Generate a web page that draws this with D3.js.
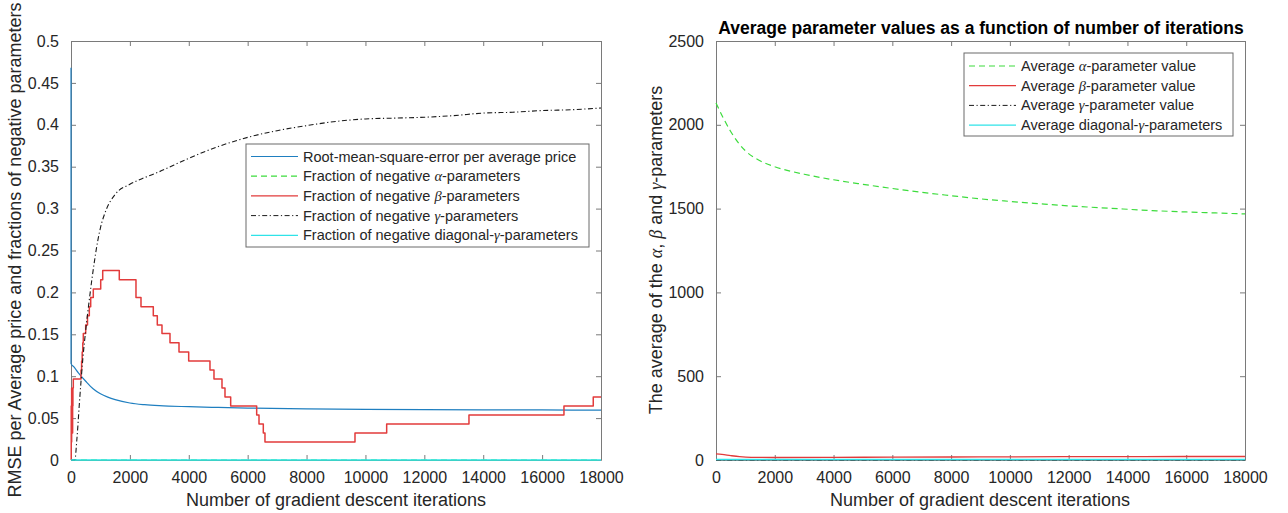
<!DOCTYPE html>
<html>
<head>
<meta charset="utf-8">
<script src="https://cdn.jsdelivr.net/npm/d3@7"></script>
<style>
  html, body { margin: 0; padding: 0; background: #fff; }
  svg { display: block; font-family: "Liberation Sans", Arial, Helvetica, sans-serif; }
</style>
</head>
<body>
<svg id="fig" width="1288" height="513"></svg>
<script>
// ---- shared axis ticks ----
const iterTicks = [0, 2000, 4000, 6000, 8000, 10000, 12000, 14000, 16000, 18000];
const leftYTicks = [0, 0.05, 0.1, 0.15, 0.2, 0.25, 0.3, 0.35, 0.4, 0.45, 0.5];
const leftYTickLabels = ["0", "0.05", "0.1", "0.15", "0.2", "0.25", "0.3", "0.35", "0.4", "0.45", "0.5"];
const rightYTicks = [0, 500, 1000, 1500, 2000, 2500];

// ---- left panel: RMSE and fractions of negative parameters ----
const rmseIter = [0, 1, 100, 250, 500, 750, 1000, 1250, 1500, 2000, 2500, 3000, 4000, 5000, 6000, 8000, 10000, 12000, 14000, 16000, 18000];
const rmseValue = [0.468, 0.115, 0.111, 0.104, 0.094, 0.085, 0.079, 0.075, 0.072, 0.068, 0.066, 0.0648, 0.0636, 0.0627, 0.062, 0.061, 0.0605, 0.0601, 0.0599, 0.0597, 0.0595];

const fracAlphaIter = [0, 18000];
const fracAlphaValue = [0, 0];

const fracBetaIter = [0, 8, 15, 22, 30, 38, 46, 55, 65, 78, 340, 360, 380, 400, 418, 499, 560, 622, 669, 757, 1009, 1077, 1640, 2207, 2377, 2795, 2931, 3090, 3362, 3668, 3997, 4720, 4856, 5128, 5230, 5423, 6306, 6385, 6531, 6588, 9645, 10721, 13516, 16742, 17737, 18000];
const fracBetaValue = [0, 0.0645, 0.0215, 0.086, 0.043, 0.0753, 0.0323, 0.0645, 0.086, 0.0968, 0.1075, 0.118, 0.129, 0.140, 0.151, 0.161, 0.172, 0.183, 0.194, 0.204, 0.215, 0.226, 0.215, 0.194, 0.183, 0.172, 0.161, 0.151, 0.140, 0.129, 0.118, 0.1075, 0.0968, 0.086, 0.0753, 0.0645, 0.0538, 0.043, 0.0323, 0.0215, 0.0323, 0.043, 0.0538, 0.0645, 0.0753, 0.0753];

const fracGammaIter = [0, 130, 200, 300, 400, 500, 600, 700, 800, 900, 1000, 1200, 1500, 2000, 2500, 3000, 3500, 4000, 5000, 6000, 7000, 8000, 9000, 10000, 11000, 12000, 13000, 14000, 15000, 16000, 17000, 18000];
const fracGammaValue = [0, 0, 0.025, 0.075, 0.12, 0.155, 0.185, 0.213, 0.238, 0.26, 0.277, 0.299, 0.317, 0.329, 0.337, 0.344, 0.352, 0.36, 0.374, 0.385, 0.393, 0.399, 0.404, 0.407, 0.408, 0.409, 0.411, 0.414, 0.415, 0.417, 0.418, 0.42];

const fracDiagIter = [0, 18000];
const fracDiagValue = [0, 0];

// ---- right panel: average parameter values ----
const avgAlphaIter = [0, 250, 500, 750, 1000, 1500, 2000, 3000, 4000, 5000, 6000, 7000, 8000, 9000, 10000, 11000, 12000, 13000, 14000, 15000, 16000, 17000, 18000];
const avgAlphaValue = [2130, 2040, 1960, 1895, 1845, 1785, 1750, 1705, 1672, 1645, 1620, 1597, 1577, 1558, 1543, 1529, 1516, 1506, 1496, 1487, 1480, 1474, 1468];

const avgBetaIter = [0, 200, 500, 800, 1200, 2000, 4000, 6000, 8000, 10000, 12000, 14000, 16000, 18000];
const avgBetaValue = [36, 33, 26, 20, 16, 15, 16, 17, 18, 19, 20, 20, 21, 21];

const avgGammaIter = [0, 18000];
const avgGammaValue = [1, 1];

const avgDiagIter = [0, 18000];
const avgDiagValue = [3, 3];

// ---- styling ----
const C = {
  blue: "#1f7fc0",
  green: "#3ddc3d",
  red: "#e23b3b",
  black: "#1a1a1a",
  cyan: "#2fe3e8",
  axis: "#7a7a7a",
  text: "#262626"
};
const TICK_FONT = 16, LABEL_FONT = 18, LEGEND_FONT = 14.5, TITLE_FONT = 17.5;

const svg = d3.select("#fig");
svg.append("rect").attr("width", 1288).attr("height", 513).attr("fill", "#fff");

const zip = (xs, ys) => xs.map((v, i) => [v, ys[i]]);

function panel(box, yDomain, yTicks, yFmt, id) {
  const x = d3.scaleLinear().domain([0, 18000]).range([box.x0, box.x1]);
  const y = d3.scaleLinear().domain(yDomain).range([box.y1, box.y0]);
  const g = svg.append("g");

  svg.append("clipPath").attr("id", id)
    .append("rect").attr("x", box.x0 - 1).attr("y", box.y0 - 1)
    .attr("width", box.x1 - box.x0 + 2).attr("height", box.y1 - box.y0 + 2);

  const style = sel => {
    sel.selectAll("path.domain").attr("stroke", C.axis).attr("stroke-width", 1);
    sel.selectAll(".tick line").attr("stroke", C.axis).attr("stroke-width", 1);
    sel.selectAll(".tick text").attr("fill", C.text).attr("font-size", TICK_FONT)
      .attr("font-family", '"Liberation Sans", Arial, sans-serif');
  };
  g.append("g").attr("transform", `translate(0,${box.y1})`)
    .call(d3.axisBottom(x).tickValues(iterTicks).tickFormat(d3.format("d")).tickSize(-5).tickSizeOuter(0).tickPadding(12))
    .call(style);
  g.append("g").attr("transform", `translate(0,${box.y0})`)
    .call(d3.axisTop(x).tickValues(iterTicks).tickFormat("").tickSize(-5).tickSizeOuter(0))
    .call(style);
  g.append("g").attr("transform", `translate(${box.x0},0)`)
    .call(d3.axisLeft(y).tickValues(yTicks).tickFormat(yFmt).tickSize(-5).tickSizeOuter(0).tickPadding(12))
    .call(style);
  g.append("g").attr("transform", `translate(${box.x1},0)`)
    .call(d3.axisRight(y).tickValues(yTicks).tickFormat("").tickSize(-5).tickSizeOuter(0))
    .call(style);
  g.selectAll(".domain").attr("fill", "none");

  const plot = svg.append("g").attr("clip-path", `url(#${id})`);
  return { x, y, plot };
}

function series(p, xs, ys, color, dash, curve, width) {
  const line = d3.line().x(d => p.x(d[0])).y(d => p.y(d[1])).curve(curve || d3.curveLinear);
  p.plot.append("path")
    .attr("d", line(zip(xs, ys)))
    .attr("fill", "none")
    .attr("stroke", color)
    .attr("stroke-width", width || 1.2)
    .attr("stroke-dasharray", dash || null)
    .attr("stroke-linejoin", "round");
}

// text with TeX-style italic greek letters, given as segments
function richText(sel, parts) {
  parts.forEach(pt => {
    if (typeof pt === "string") sel.append("tspan").text(pt);
    else sel.append("tspan").attr("font-family", '"Liberation Serif", "DejaVu Serif", serif')
      .attr("font-style", "italic").text(pt.g);
  });
}

function legend(box, rows) {
  const g = svg.append("g");
  g.append("rect").attr("x", box.x).attr("y", box.y).attr("width", box.w).attr("height", box.h)
    .attr("fill", "#fff").attr("stroke", "#6a6a6a").attr("stroke-width", 1);
  rows.forEach((r, i) => {
    const cy = box.y + box.first + i * box.step;
    g.append("line").attr("x1", box.x + 5).attr("x2", box.x + 52).attr("y1", cy).attr("y2", cy)
      .attr("stroke", r.color).attr("stroke-width", r.width || 1.2).attr("stroke-dasharray", r.dash || null);
    const t = g.append("text").attr("x", box.x + 57).attr("y", cy).attr("dy", "0.35em")
      .attr("font-size", LEGEND_FONT).attr("fill", C.text);
    richText(t, r.label);
  });
}

const DASH = "6,4";
const DASHDOT = "5,2.5,1.2,2.5";

// ===== left panel =====
const L = panel({ x0: 71, x1: 601, y0: 41, y1: 460 }, [0, 0.5], leftYTicks,
  (d, i) => leftYTickLabels[i], "clipL");
series(L, rmseIter, rmseValue, C.blue, null, d3.curveMonotoneX, 1.2);
series(L, fracAlphaIter, fracAlphaValue, C.green, DASH, null, 1.2);
series(L, fracBetaIter, fracBetaValue, C.red, null, d3.curveStepAfter, 1.5);
series(L, fracGammaIter, fracGammaValue, C.black, DASHDOT, d3.curveMonotoneX, 1.1);
series(L, fracDiagIter, fracDiagValue, C.cyan, null, null, 1.6);

legend({ x: 246, y: 144, w: 343, h: 103, first: 12.5, step: 19.7 }, [
  { color: C.blue, label: ["Root-mean-square-error per average price"] },
  { color: C.green, dash: DASH, label: ["Fraction of negative ", { g: "α" }, "-parameters"] },
  { color: C.red, label: ["Fraction of negative ", { g: "β" }, "-parameters"] },
  { color: C.black, dash: DASHDOT, width: 1, label: ["Fraction of negative ", { g: "γ" }, "-parameters"] },
  { color: C.cyan, label: ["Fraction of negative diagonal-", { g: "γ" }, "-parameters"] }
]);

svg.append("text").attr("x", 336).attr("y", 506).attr("text-anchor", "middle")
  .attr("font-size", LABEL_FONT).attr("fill", C.text).text("Number of gradient descent iterations");
svg.append("text").attr("transform", "translate(21,250) rotate(-90)").attr("text-anchor", "middle")
  .attr("font-size", LABEL_FONT).attr("fill", C.text)
  .text("RMSE per Average price and fractions of negative parameters");

// ===== right panel =====
const R = panel({ x0: 716, x1: 1245, y0: 41, y1: 460 }, [0, 2500], rightYTicks,
  d3.format("d"), "clipR");
series(R, avgAlphaIter, avgAlphaValue, C.green, DASH, d3.curveMonotoneX, 1.2);
series(R, avgBetaIter, avgBetaValue, C.red, null, d3.curveMonotoneX, 1.3);
series(R, avgGammaIter, avgGammaValue, C.black, DASHDOT, null, 1.1);
series(R, avgDiagIter, avgDiagValue, C.cyan, null, null, 1.6);

legend({ x: 964, y: 53, w: 269, h: 83, first: 13, step: 19.7 }, [
  { color: C.green, dash: DASH, label: ["Average ", { g: "α" }, "-parameter value"] },
  { color: C.red, label: ["Average ", { g: "β" }, "-parameter value"] },
  { color: C.black, dash: DASHDOT, width: 1, label: ["Average ", { g: "γ" }, "-parameter value"] },
  { color: C.cyan, label: ["Average diagonal-", { g: "γ" }, "-parameters"] }
]);

svg.append("text").attr("x", 981).attr("y", 34).attr("text-anchor", "middle")
  .attr("font-size", TITLE_FONT).attr("font-weight", "bold").attr("fill", "#000")
  .text("Average parameter values as a function of number of iterations");
svg.append("text").attr("x", 980).attr("y", 506).attr("text-anchor", "middle")
  .attr("font-size", LABEL_FONT).attr("fill", C.text).text("Number of gradient descent iterations");
const yl = svg.append("text").attr("transform", "translate(662,250) rotate(-90)").attr("text-anchor", "middle")
  .attr("font-size", LABEL_FONT).attr("fill", C.text);
richText(yl, ["The average of the ", { g: "α" }, ", ", { g: "β" }, " and ", { g: "γ" }, "-parameters"]);
</script>
</body>
</html>
